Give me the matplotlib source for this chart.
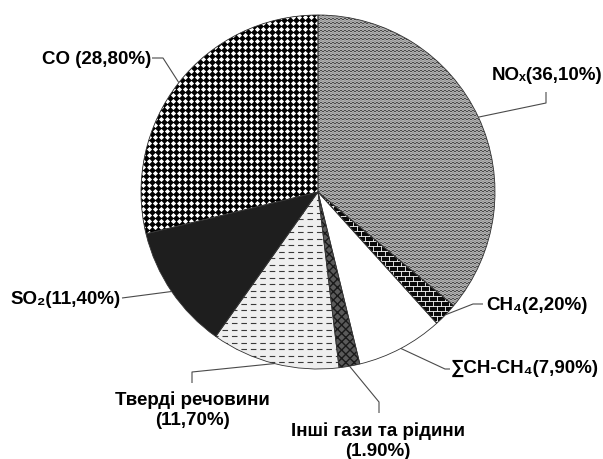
import matplotlib
matplotlib.use("Agg")
import matplotlib.pyplot as plt
import numpy as np
from matplotlib.collections import LineCollection
from matplotlib.patches import Wedge

# data (clockwise from 12 o'clock)
categories = ["NOx", "CH4", "CH-CH4", "Other", "Solids", "SO2", "CO"]
shares = [36.10, 2.20, 7.90, 1.90, 11.70, 11.40, 28.80]
label_texts = [
    "NOₓ(36,10%)",
    "CH₄(2,20%)",
    "∑CH-CH₄(7,90%)",
    "Інші гази та рідини\n(1.90%)",
    "Тверді речовини\n(11,70%)",
    "SO₂(11,40%)",
    "CO (28,80%)",
]

# layout in pixel coordinates (y grows downward)
CENTER = (318, 192)
RADIUS = 177
label_pos = [(547, 75), (486, 305), (451, 368), (378, 441), (192, 410), (121, 300), (151, 60)]
label_ha = ["center", "left", "left", "center", "center", "right", "right"]
leader_bends = [
    [(546, 103), (546, 92)],
    [(473, 304), (483, 304)],
    [(445, 369), (450, 369)],
    [(379, 402), (379, 413)],
    [(192, 372), (192, 383)],
    [(122, 298)],
    [(163, 58), (152, 58)],
]
face_colors = ["#c4c4c4", "#0a0a0a", "#ffffff", "#5a5a5a", "#efefef", "#1e1e1e", "#000000"]

FONT = ["Liberation Sans", "DejaVu Sans"]

fig = plt.figure(figsize=(6.03, 4.59), dpi=100)
ax = fig.add_axes([0, 0, 1, 1])

wedges, _ = ax.pie(
    shares,
    startangle=-90,
    counterclock=True,
    center=CENTER,
    radius=RADIUS,
    colors=face_colors,
    wedgeprops=dict(linewidth=0, zorder=1),
)
ax.set_xlim(0, 603)
ax.set_ylim(459, 0)
ax.set_aspect("equal")
ax.axis("off")

# texture area = bounding box of the whole pie
x_lo, x_hi = CENTER[0] - RADIUS - 4, CENTER[0] + RADIUS + 4
y_lo, y_hi = CENTER[1] - RADIUS - 4, CENTER[1] + RADIUS + 4


def copy_wedge(w, **kw):
    p = Wedge(w.center, w.r, w.theta1, w.theta2, **kw)
    ax.add_patch(p)
    return p


# NOx: zigzag lines
w = wedges[0]
xs = np.arange(x_lo, x_hi, 2.0)
segs_dark, segs_grey = [], []
for k, y0 in enumerate(np.arange(y_lo, y_hi, 2.0)):
    ys = y0 + np.where(np.arange(len(xs)) % 2 == 0, -0.9, 0.9)
    (segs_dark if k % 2 == 0 else segs_grey).append(np.column_stack([xs, ys]))
for segs, col in ((segs_dark, "#2a2a2a"), (segs_grey, "#8c8c8c")):
    lc = LineCollection(segs, colors=col, linewidths=0.55, zorder=2)
    ax.add_collection(lc)
    lc.set_clip_path(w)

# CH4: white bricks on black
w = wedges[1]
for k, y0 in enumerate(np.arange(y_lo, y_hi, 5.0)):
    ln, = ax.plot([x_lo, x_hi], [y0, y0], color="white", lw=0.6, zorder=2)
    ln.set_clip_path(w)
    bx = np.arange(x_lo + (k % 2) * 4, x_hi, 8.0)
    segs = [[(x, y0), (x, y0 + 5)] for x in bx]
    lc = LineCollection(segs, colors="white", linewidths=0.6, zorder=2)
    ax.add_collection(lc)
    lc.set_clip_path(w)

# sum CH: fine grey dots
w = wedges[2]
gx, gy = np.meshgrid(np.arange(x_lo, x_hi, 3.0), np.arange(y_lo, y_hi, 3.0))
sc = ax.scatter(gx.ravel(), gy.ravel(), s=0.5, marker="s", color="#a8a8a8", linewidths=0, zorder=2)
sc.set_clip_path(w)

# other gases: dark grey with scales
copy_wedge(wedges[3], fill=False, hatch="xxxx", edgecolor="#1a1a1a", linewidth=0, zorder=2)

# solids: dashed horizontal lines
w = wedges[4]
for y0 in np.arange(y_lo, y_hi, 6.5):
    ln, = ax.plot([x_lo, x_hi], [y0, y0], color="#3a3a3a", lw=0.8,
                  linestyle=(0, (5, 3.5)), zorder=2)
    ln.set_clip_path(w)

# CO: white diamonds on black
w = wedges[6]
gx, gy = np.meshgrid(np.arange(x_lo, x_hi, 6.0), np.arange(y_lo, y_hi, 6.0))
sc = ax.scatter(gx.ravel(), gy.ravel(), s=7, marker="D", color="white", linewidths=0, zorder=2)
sc.set_clip_path(w)

# outlines on top
for w in wedges:
    copy_wedge(w, fill=False, edgecolor="#333333", linewidth=0.6, zorder=4)

# leader lines and labels
for w, text, pos, ha, bends in zip(wedges, label_texts, label_pos, label_ha, leader_bends):
    mid = np.deg2rad((w.theta1 + w.theta2) / 2)
    start = (w.center[0] + w.r * np.cos(mid), w.center[1] + w.r * np.sin(mid))
    pts = np.array([start] + bends)
    ax.plot(pts[:, 0], pts[:, 1], color="#4a4a4a", lw=0.8, zorder=5, solid_capstyle="butt")
    ax.text(pos[0], pos[1], text, ha=ha, va="center", family=FONT, fontsize=13.5,
            fontweight="bold", linespacing=1.25, multialignment="center", zorder=6)

fig.savefig("out.png", dpi=100, facecolor="white")
